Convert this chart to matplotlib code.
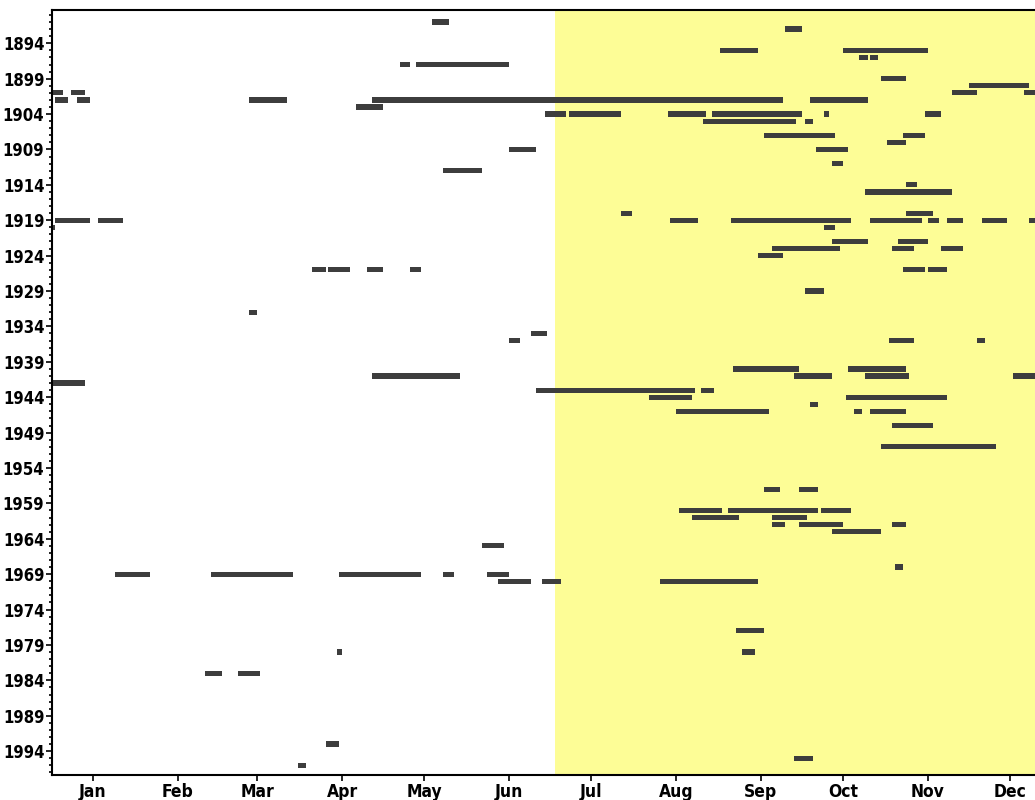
import matplotlib
matplotlib.use("Agg")
import matplotlib.pyplot as plt
from matplotlib.ticker import MultipleLocator

# one row per segment: year, first day, last day (day of year)
seg_year = [1891, 1892, 1895, 1895, 1896, 1896, 1897, 1897, 1899, 1900,
            1901, 1901, 1901, 1901,
            1902, 1902, 1902, 1902, 1902, 1903,
            1904, 1904, 1904, 1904, 1904, 1904, 1905, 1905,
            1907, 1907, 1908, 1909, 1909, 1911, 1912, 1914, 1915, 1915,
            1918, 1918,
            1919, 1919, 1919, 1919, 1919, 1919, 1919, 1919, 1919,
            1920, 1920, 1922, 1922, 1923, 1923, 1923, 1924,
            1926, 1926, 1926, 1926, 1926, 1926, 1926,
            1929, 1932, 1935, 1936, 1936, 1936, 1940, 1940,
            1941, 1941, 1941, 1941, 1942, 1943, 1943, 1944, 1944, 1944,
            1945, 1946, 1946, 1946, 1948, 1951, 1957, 1957,
            1960, 1960, 1960, 1961, 1961, 1962, 1962, 1962, 1963,
            1965, 1968, 1969, 1969, 1969, 1969, 1969, 1970, 1970, 1970,
            1977, 1980, 1980, 1983, 1983, 1993, 1995, 1996]
seg_start = [139, 268, 244, 289, 295, 299, 127, 133, 303, 335,
             0.4, 7, 329, 355,
             1, 9, 72, 117, 277, 111,
             180, 189, 225, 241, 282, 319, 238, 275,
             260, 311, 305, 167, 279, 285, 143, 312, 297, 311,
             208, 312,
             1, 17, 226, 248, 299, 320, 327, 340, 357,
             0, 282, 285, 309, 263, 307, 325, 258,
             95, 101, 105, 115, 131, 311, 320,
             275, 72, 175, 167, 306, 338, 249, 291,
             117, 271, 297, 351, 0, 177, 237, 218, 290, 301,
             277, 228, 293, 299, 307, 303, 260, 273,
             229, 247, 281, 234, 263, 263, 273, 307, 285,
             157, 308, 23, 58, 105, 143, 159, 163, 179, 222,
             250, 104, 252, 56, 68, 100, 271, 90]
seg_end = [145, 274, 258, 320, 298, 302, 131, 167, 312, 357,
           4, 12, 338, 366,
           6, 14, 86, 267, 298, 121,
           188, 208, 239, 274, 284, 325, 272, 278,
           286, 319, 312, 177, 291, 289, 157, 316, 311, 329,
           212, 322,
           14, 26, 236, 292, 318, 324, 333, 349, 366,
           1, 286, 298, 320, 288, 315, 333, 267,
           100, 105, 109, 121, 135, 319, 327,
           282, 75, 181, 171, 315, 341, 273, 312,
           149, 285, 313, 366, 12, 235, 242, 234, 301, 327,
           280, 262, 296, 312, 322, 345, 266, 280,
           245, 280, 292, 251, 276, 268, 289, 312, 303,
           165, 311, 36, 88, 135, 147, 167, 175, 186, 258,
           260, 106, 257, 62, 76, 105, 278, 93]

month_labels = ["Jan", "Feb", "Mar", "Apr", "May", "Jun",
                "Jul", "Aug", "Sep", "Oct", "Nov", "Dec"]
month_mid = [15, 46, 75, 106, 136, 167, 197, 228, 259, 289, 320, 350]
year_ticks = list(range(1894, 1995, 5))

plt.rcParams['font.family'] = ['DejaVu Sans']
plt.rcParams['font.stretch'] = 'condensed'

fig = plt.figure(figsize=(10.35, 8), dpi=100)
ax = fig.add_axes([0.0502, 0.031, 0.9498, 0.9565])

ax.axvspan(183.8, 366, color='#fdfd96', lw=0, zorder=0)

widths = [e - s for s, e in zip(seg_start, seg_end)]
ax.barh(seg_year, widths, left=seg_start, height=0.74, color='#3d3d3d', zorder=2)

ax.set_xlim(0, 359.2)
ax.set_ylim(1997.4, 1889.3)

ax.set_xticks(month_mid)
ax.set_xticklabels(month_labels, fontsize=12.5, fontweight='bold')
ax.set_yticks(year_ticks)
ax.set_yticklabels([str(y) for y in year_ticks], fontsize=12, fontweight='bold')
ax.yaxis.set_minor_locator(MultipleLocator(1))
ax.tick_params(axis='y', which='major', length=4, width=1.2, pad=1.5)
ax.tick_params(axis='y', which='minor', length=2, width=1.2)
ax.tick_params(axis='x', length=4, width=1.2, pad=1.5)

ax.spines['right'].set_visible(False)
for side in ['left', 'bottom', 'top']:
    ax.spines[side].set_linewidth(1.5)

fig.savefig("out.png", dpi=100)
